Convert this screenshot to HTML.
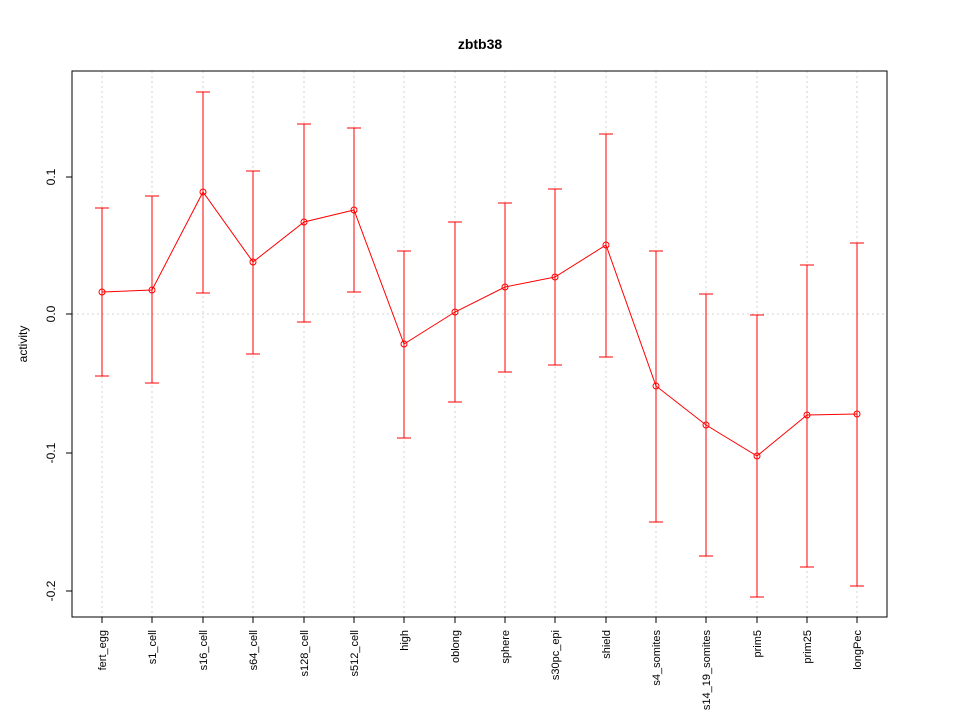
<!DOCTYPE html>
<html><head><meta charset="utf-8"><style>body{margin:0;background:#fff}svg{display:block}</style></head><body>
<svg width="960" height="720" xmlns="http://www.w3.org/2000/svg" font-family="Liberation Sans, Arial, sans-serif">
<rect width="960" height="720" fill="#fff"/>
<text x="480" y="49" text-anchor="middle" font-size="14" font-weight="bold">zbtb38</text>
<g stroke="#d3d3d3" stroke-dasharray="2,3" stroke-width="1">
<line x1="72" y1="314" x2="887" y2="314"/>
<line x1="102" y1="71" x2="102" y2="617"/><line x1="152" y1="71" x2="152" y2="617"/><line x1="203" y1="71" x2="203" y2="617"/><line x1="253" y1="71" x2="253" y2="617"/><line x1="304" y1="71" x2="304" y2="617"/><line x1="354" y1="71" x2="354" y2="617"/><line x1="404" y1="71" x2="404" y2="617"/><line x1="455" y1="71" x2="455" y2="617"/><line x1="505" y1="71" x2="505" y2="617"/><line x1="555" y1="71" x2="555" y2="617"/><line x1="606" y1="71" x2="606" y2="617"/><line x1="656" y1="71" x2="656" y2="617"/><line x1="706" y1="71" x2="706" y2="617"/><line x1="757" y1="71" x2="757" y2="617"/><line x1="807" y1="71" x2="807" y2="617"/><line x1="857" y1="71" x2="857" y2="617"/>
</g>
<rect x="72" y="71" width="815" height="546" fill="none" stroke="#000"/>
<g stroke="#000">
<line x1="72" y1="177" x2="66" y2="177"/><line x1="72" y1="314" x2="66" y2="314"/><line x1="72" y1="453" x2="66" y2="453"/><line x1="72" y1="591" x2="66" y2="591"/>
<line x1="102" y1="617" x2="102" y2="623"/><line x1="152" y1="617" x2="152" y2="623"/><line x1="203" y1="617" x2="203" y2="623"/><line x1="253" y1="617" x2="253" y2="623"/><line x1="304" y1="617" x2="304" y2="623"/><line x1="354" y1="617" x2="354" y2="623"/><line x1="404" y1="617" x2="404" y2="623"/><line x1="455" y1="617" x2="455" y2="623"/><line x1="505" y1="617" x2="505" y2="623"/><line x1="555" y1="617" x2="555" y2="623"/><line x1="606" y1="617" x2="606" y2="623"/><line x1="656" y1="617" x2="656" y2="623"/><line x1="706" y1="617" x2="706" y2="623"/><line x1="757" y1="617" x2="757" y2="623"/><line x1="807" y1="617" x2="807" y2="623"/><line x1="857" y1="617" x2="857" y2="623"/>
</g>
<g font-size="12" text-anchor="middle">
<text transform="translate(55,177) rotate(-90)">0.1</text>
<text transform="translate(55,314) rotate(-90)">0.0</text>
<text transform="translate(55,453) rotate(-90)">-0.1</text>
<text transform="translate(55,591) rotate(-90)">-0.2</text>
<text transform="translate(27,344) rotate(-90)">activity</text>
</g>
<g font-size="11" text-anchor="end">
<text transform="translate(106,630) rotate(-90)">fert_egg</text>
<text transform="translate(156,630) rotate(-90)">s1_cell</text>
<text transform="translate(207,630) rotate(-90)">s16_cell</text>
<text transform="translate(257,630) rotate(-90)">s64_cell</text>
<text transform="translate(308,630) rotate(-90)">s128_cell</text>
<text transform="translate(358,630) rotate(-90)">s512_cell</text>
<text transform="translate(408,630) rotate(-90)">high</text>
<text transform="translate(459,630) rotate(-90)">oblong</text>
<text transform="translate(509,630) rotate(-90)">sphere</text>
<text transform="translate(559,630) rotate(-90)">s30pc_epi</text>
<text transform="translate(610,630) rotate(-90)">shield</text>
<text transform="translate(660,630) rotate(-90)">s4_somites</text>
<text transform="translate(710,630) rotate(-90)">s14_19_somites</text>
<text transform="translate(761,630) rotate(-90)">prim5</text>
<text transform="translate(811,630) rotate(-90)">prim25</text>
<text transform="translate(861,630) rotate(-90)">longPec</text>
</g>
<g stroke="#ff0000" fill="none" stroke-width="1">
<path d="M102 208V376M95 208H109M95 376H109"/>
<path d="M152 196V383M145 196H159M145 383H159"/>
<path d="M203 92V293M196 92H210M196 293H210"/>
<path d="M253 171V354M246 171H260M246 354H260"/>
<path d="M304 124V322M297 124H311M297 322H311"/>
<path d="M354 128V292M347 128H361M347 292H361"/>
<path d="M404 251V438M397 251H411M397 438H411"/>
<path d="M455 222V402M448 222H462M448 402H462"/>
<path d="M505 203V372M498 203H512M498 372H512"/>
<path d="M555 189V365M548 189H562M548 365H562"/>
<path d="M606 134V357M599 134H613M599 357H613"/>
<path d="M656 251V522M649 251H663M649 522H663"/>
<path d="M706 294V556M699 294H713M699 556H713"/>
<path d="M757 315V597M750 315H764M750 597H764"/>
<path d="M807 265V567M800 265H814M800 567H814"/>
<path d="M857 243V586M850 243H864M850 586H864"/>
<polyline points="102,292 152,290 203,192 253,262 304,222 354,210 404,344 455,312 505,287 555,277 606,245 656,386 706,425 757,456 807,415 857,414"/>
<circle cx="102" cy="292" r="3"/><circle cx="152" cy="290" r="3"/><circle cx="203" cy="192" r="3"/><circle cx="253" cy="262" r="3"/><circle cx="304" cy="222" r="3"/><circle cx="354" cy="210" r="3"/><circle cx="404" cy="344" r="3"/><circle cx="455" cy="312" r="3"/><circle cx="505" cy="287" r="3"/><circle cx="555" cy="277" r="3"/><circle cx="606" cy="245" r="3"/><circle cx="656" cy="386" r="3"/><circle cx="706" cy="425" r="3"/><circle cx="757" cy="456" r="3"/><circle cx="807" cy="415" r="3"/><circle cx="857" cy="414" r="3"/>
</g>
</svg>
</body></html>
